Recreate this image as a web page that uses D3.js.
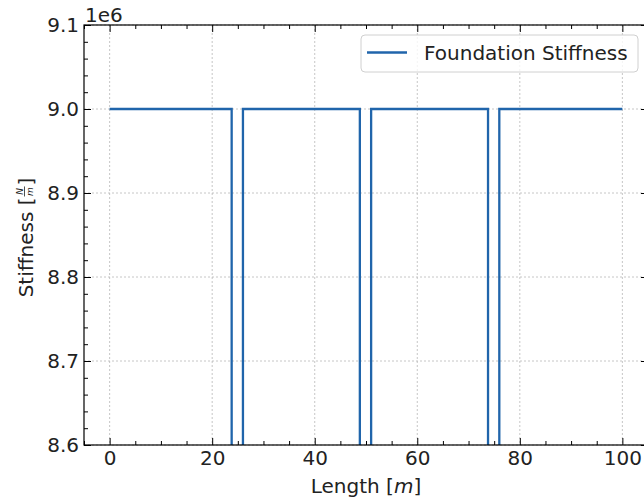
<!DOCTYPE html>
<html><head><meta charset="utf-8">
<script src="https://cdn.jsdelivr.net/npm/d3@7"></script>
<style>body{margin:0;background:#fff;}svg{display:block;font-family:"DejaVu Sans",sans-serif;}</style>
</head><body>
<script>
// Data: step profile of foundation stiffness
const positions = [0, 23.8, 23.8, 26, 26, 48.8, 48.8, 51, 51, 73.8, 73.8, 76, 76, 100];
const stiffness = [9.0e6, 9.0e6, 4.5e6, 4.5e6, 9.0e6, 9.0e6, 4.5e6, 4.5e6, 9.0e6, 9.0e6, 4.5e6, 4.5e6, 9.0e6, 9.0e6];
const xTicks = [0, 20, 40, 60, 80, 100];
const yTicks = [8.6e6, 8.7e6, 8.8e6, 8.9e6, 9.0e6, 9.1e6];
const seriesName = "Foundation Stiffness";

const W = 644, H = 501;
const L = 84, T = 25, R = 648, B = 445;
const FS = 20;
const svg = d3.select("body").append("svg").attr("width", W).attr("height", H);

const x = d3.scaleLinear().domain([-5, 105]).range([L, R]);
const y = d3.scaleLinear().domain([8.6e6, 9.1e6]).range([B, T]);

svg.append("defs").append("clipPath").attr("id", "clip")
  .append("rect").attr("x", L).attr("y", T).attr("width", R - L).attr("height", B - T);

// grid
const grid = svg.append("g");
xTicks.forEach(v => grid.append("line").attr("x1", x(v)).attr("x2", x(v)).attr("y1", T).attr("y2", B)
  .attr("stroke", "#b8b8b8").attr("stroke-width", 0.8).attr("stroke-dasharray", "2,2"));
yTicks.forEach(v => grid.append("line").attr("x1", L).attr("x2", R).attr("y1", y(v)).attr("y2", y(v))
  .attr("stroke", "#b8b8b8").attr("stroke-width", 0.8).attr("stroke-dasharray", "2,2"));

// line
const line = d3.line().x((d, i) => x(positions[i])).y(d => y(d));
svg.append("path").datum(stiffness).attr("clip-path", "url(#clip)")
  .attr("d", line).attr("fill", "none").attr("stroke", "#2065ab").attr("stroke-width", 2.3);

// axes (ticks inward)
const xMinor = d3.range(-5, 106, 5).filter(v => v % 20 !== 0);
const yMinor = d3.range(0, 26).map(i => 8.6e6 + i * 0.02e6).filter((v, i) => i % 5 !== 0);
const fmtY = v => (v / 1e6).toFixed(1);

function axisStyle(g) {
  g.select(".domain").remove();
  g.selectAll(".tick line").attr("stroke", "#000").attr("stroke-width", 1);
}
function textStyle(g) {
  g.selectAll("text").attr("font-size", FS).attr("fill", "#222").attr("font-family", "DejaVu Sans");
}
svg.append("g").attr("transform", `translate(0,${B})`)
  .call(d3.axisBottom(x).tickValues(xTicks).tickSizeInner(-7).tickSizeOuter(0).tickPadding(6).tickFormat(d3.format("d")))
  .call(axisStyle).call(textStyle);
svg.append("g").attr("transform", `translate(0,${B})`)
  .call(d3.axisBottom(x).tickValues(xMinor).tickSizeInner(-4).tickSizeOuter(0).tickFormat(""))
  .call(axisStyle);
svg.append("g").attr("transform", `translate(0,${T})`)
  .call(d3.axisTop(x).tickValues(xTicks).tickSizeInner(-7).tickSizeOuter(0).tickFormat(""))
  .call(axisStyle);
svg.append("g").attr("transform", `translate(0,${T})`)
  .call(d3.axisTop(x).tickValues(xMinor).tickSizeInner(-4).tickSizeOuter(0).tickFormat(""))
  .call(axisStyle);
svg.append("g").attr("transform", `translate(${L},0)`)
  .call(d3.axisLeft(y).tickValues(yTicks).tickSizeInner(-7).tickSizeOuter(0).tickPadding(5).tickFormat(fmtY))
  .call(axisStyle).call(textStyle);
svg.append("g").attr("transform", `translate(${L},0)`)
  .call(d3.axisLeft(y).tickValues(yMinor).tickSizeInner(-4).tickSizeOuter(0).tickFormat(""))
  .call(axisStyle);
svg.append("g").attr("transform", `translate(${R},0)`)
  .call(d3.axisRight(y).tickValues(yTicks).tickSizeInner(-7).tickSizeOuter(0).tickFormat(""))
  .call(axisStyle);
svg.append("g").attr("transform", `translate(${R},0)`)
  .call(d3.axisRight(y).tickValues(yMinor).tickSizeInner(-4).tickSizeOuter(0).tickFormat(""))
  .call(axisStyle);

// spines
svg.append("rect").attr("x", L).attr("y", T).attr("width", R - L).attr("height", B - T)
  .attr("fill", "none").attr("stroke", "#000").attr("stroke-width", 1.2);

// offset text
svg.append("text").attr("x", L + 1).attr("y", 22).attr("font-size", FS).attr("fill", "#222").text("1e6");

// x axis label
const xl = svg.append("text").attr("x", (L + R) / 2).attr("y", 493).attr("text-anchor", "middle")
  .attr("font-size", FS).attr("fill", "#222");
xl.append("tspan").text("Length [");
xl.append("tspan").attr("font-style", "italic").text("m");
xl.append("tspan").text("]");

// y axis label with fraction N/m
const yl = svg.append("g").attr("transform", `translate(33,237.5) rotate(-90)`);
const t1 = yl.append("text").attr("font-size", FS).attr("fill", "#222").text("Stiffness [");
const w1 = t1.node().getComputedTextLength();
const fracW = 10;
const t3 = yl.append("text").attr("font-size", FS).attr("fill", "#222").text("]");
const w3 = t3.node().getComputedTextLength();
const total = w1 + fracW + 2 + w3;
const x0 = -total / 2;
t1.attr("x", x0);
const fx = x0 + w1 + 1;
yl.append("text").attr("x", fx + fracW / 2).attr("y", -10).attr("text-anchor", "middle")
  .attr("font-size", 9).attr("font-style", "italic").attr("fill", "#222").text("N");
yl.append("line").attr("x1", fx).attr("x2", fx + fracW).attr("y1", -8.5).attr("y2", -8.5)
  .attr("stroke", "#222").attr("stroke-width", 0.8);
yl.append("text").attr("x", fx + fracW / 2).attr("y", 0).attr("text-anchor", "middle")
  .attr("font-size", 9).attr("font-style", "italic").attr("fill", "#222").text("m");
t3.attr("x", fx + fracW + 1);

// legend
const lg = svg.append("g");
lg.append("rect").attr("x", 361).attr("y", 35).attr("width", 277).attr("height", 37).attr("rx", 4)
  .attr("fill", "#fff").attr("fill-opacity", 0.8).attr("stroke", "#d0d0d0").attr("stroke-width", 1);
lg.append("line").attr("x1", 367).attr("x2", 407).attr("y1", 52.5).attr("y2", 52.5)
  .attr("stroke", "#2065ab").attr("stroke-width", 2.3);
lg.append("text").attr("x", 424).attr("y", 60).attr("font-size", FS).attr("fill", "#222").text(seriesName);
</script>
</body></html>
